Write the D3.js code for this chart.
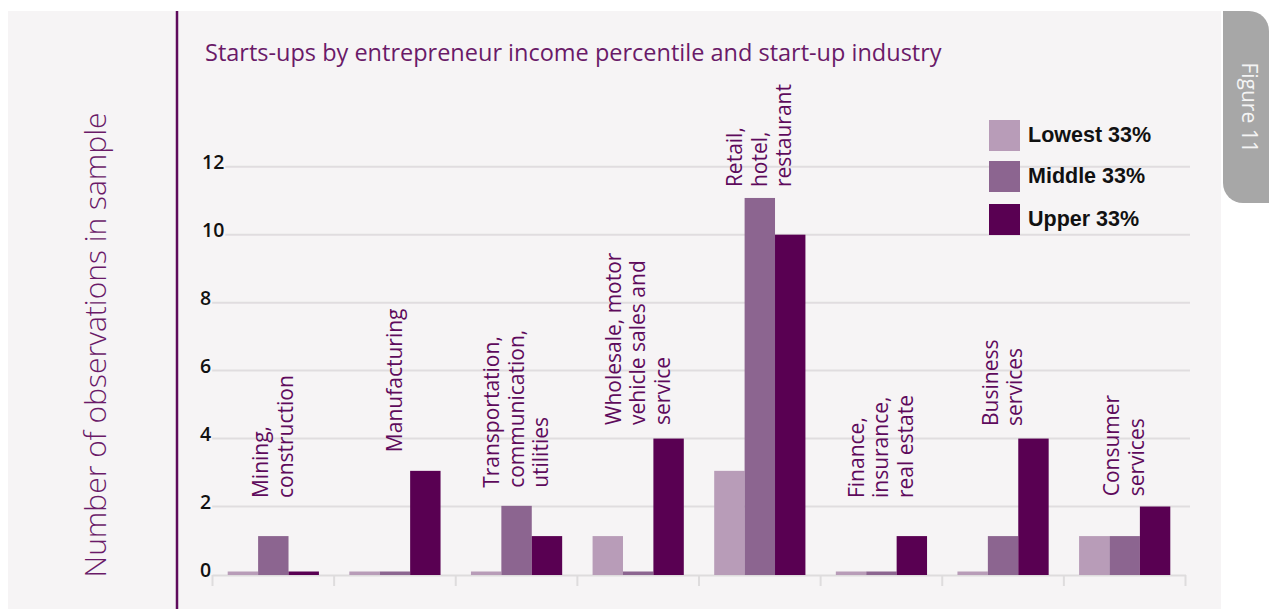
<!DOCTYPE html>
<html><head><meta charset="utf-8">
<script src="https://cdn.jsdelivr.net/npm/d3@7"></script>
<style>
html,body{margin:0;padding:0;background:#fff;}
svg{display:block;}
</style></head>
<body>
<svg id="chart" width="1269" height="609"></svg>
<script>
// ---- data ----
const categories = ["Mining, construction","Manufacturing","Transportation, communication, utilities","Wholesale, motor vehicle sales and service","Retail, hotel, restaurant","Finance, insurance, real estate","Business services","Consumer services"];
const categoryLines = [["Mining,","construction"],["Manufacturing"],["Transportation,","communication,","utilities"],["Wholesale, motor","vehicle sales and","service"],["Retail,","hotel,","restaurant"],["Finance,","insurance,","real estate"],["Business","services"],["Consumer","services"]];
const seriesNames = ["Lowest 33%","Middle 33%","Upper 33%"];
const lowest = [0, 0, 0, 1.13, 3.05, 0, 0, 1.13];
const middle = [1.13, 0, 2.02, 0, 11.08, 0, 1.13, 1.13];
const upper  = [0, 3.05, 1.13, 4, 10, 1.13, 4, 2];
const yTicks = [0, 2, 4, 6, 8, 10, 12];
const titleText = "Starts-ups by entrepreneur income percentile and start-up industry";
const yTitle = "Number of observations in sample";
// label anchor heights (in axis units) for category labels
const labelLift = [2.25, 3.6, 2.55, 4.4, 11.4, 2.25, 4.37, 2.3];

const colors = ["#b89cb8", "#8c6590", "#590052"];
const purple = "#5e0a5c";

const svg = d3.select("#chart");
// panel background
svg.append("rect").attr("x", 8).attr("y", 11).attr("width", 1213).attr("height", 598).attr("fill", "#f6f4f5");
// figure tab
const tab = d3.path();
tab.moveTo(1223, 11); tab.lineTo(1249, 11);
tab.arcTo(1269, 11, 1269, 31, 20); tab.lineTo(1269, 203);
tab.lineTo(1243, 203); tab.arcTo(1223, 203, 1223, 183, 20); tab.closePath();
svg.append("path").attr("d", tab.toString()).attr("fill", "#a7a7a7");
svg.append("text").attr("transform", "translate(1242,107.5) rotate(90)")
  .attr("text-anchor", "middle").attr("fill", "#f4f4f4")
  .style("font-family", "'Open Sans', sans-serif").style("font-size", "21px")
  .text("Figure 11");

// vertical divider
svg.append("line").attr("x1", 177).attr("x2", 177).attr("y1", 11).attr("y2", 609)
  .attr("stroke", purple).attr("stroke-width", 2.5);

// y title
svg.append("text").attr("transform", "translate(106,345) rotate(-90)")
  .attr("text-anchor", "middle").attr("fill", "#6a1a68")
  .style("font-family", "'Open Sans', sans-serif").style("font-weight", 300).style("font-size", "30px")
  .text(yTitle);

// title
svg.append("text").attr("x", 205).attr("y", 61).attr("fill", "#6a1a68")
  .style("font-family", "'Open Sans', sans-serif").style("font-size", "23.5px")
  .text(titleText);

// scales
const y = d3.scaleLinear().domain([0, 12]).range([574.5, 166.7]);
const x0 = d3.scaleBand().domain(categories).range([212.5, 1185.5]).padding(0);
const x1 = d3.scaleBand().domain(seriesNames).range([0, x0.bandwidth()]).paddingInner(0).paddingOuter(0.5);
const seriesData = [lowest, middle, upper];

// gridlines + tick labels
const gridG = svg.append("g");
yTicks.forEach(t => {
  const lx = t >= 10 ? 202 : 200;
  const lbl = gridG.append("text").attr("x", lx).attr("y", y(t) + 2)
    .attr("fill", "#111").style("font-family", "'Open Sans', sans-serif")
    .style("font-weight", 600).style("font-size", "19.5px").text(t);
  if (t > 0) {
    const w = lbl.node().getComputedTextLength();
    gridG.insert("line", "text").attr("x1", lx + w + 1).attr("x2", 1190)
      .attr("y1", y(t)).attr("y2", y(t)).attr("stroke", "#e0dddf").attr("stroke-width", 2);
  }
});
// baseline axis with boundary ticks
const axisG = svg.append("g");
axisG.append("line").attr("x1", 212.5).attr("x2", 1186).attr("y1", 575.5).attr("y2", 575.5)
  .attr("stroke", "#dedcdd").attr("stroke-width", 2);
const bounds = categories.map(c => x0(c)).concat([x0.range()[1]]);
bounds.forEach(b => {
  axisG.append("line").attr("x1", b).attr("x2", b).attr("y1", 575).attr("y2", 586)
    .attr("stroke", "#dedcdd").attr("stroke-width", 2);
});

// bars
const barsG = svg.append("g");
categories.forEach((c, i) => {
  seriesNames.forEach((s, j) => {
    const v = seriesData[j][i];
    const top = Math.min(y(v), y(0) - 3);
    barsG.append("rect")
      .attr("x", x0(c) + x1(s)).attr("width", x1.bandwidth())
      .attr("y", top).attr("height", y(0) - top + 0.5)
      .attr("fill", colors[j]);
  });
});

// category labels
const labG = svg.append("g");
const lineH = 24.5;
categories.forEach((c, i) => {
  const lines = categoryLines[i];
  const cx = x0(c) + x0.bandwidth() / 2 - 1;
  const n = lines.length;
  const blockW = (n - 1) * lineH;
  const baseX0 = cx - blockW / 2 + 8; // baseline of first line
  lines.forEach((ln, k) => {
    labG.append("text")
      .attr("transform", `translate(${baseX0 + k * lineH},${y(labelLift[i])}) rotate(-90)`)
      .attr("fill", "#5e0a5c")
      .style("font-family", "'Open Sans', sans-serif").style("font-weight", 500).style("font-size", "21px")
      .text(ln);
  });
});

// legend
const lg = svg.append("g");
seriesNames.forEach((s, j) => {
  const yy = [120, 161, 204][j];
  lg.append("rect").attr("x", 989).attr("y", yy).attr("width", 31).attr("height", 31).attr("fill", colors[j]);
  lg.append("text").attr("x", 1028).attr("y", yy + 22).attr("fill", "#111")
    .style("font-family", "'Liberation Sans', Arial, sans-serif").style("font-weight", 700).style("font-size", "21.5px")
    .text(s);
});
</script>
</body></html>
